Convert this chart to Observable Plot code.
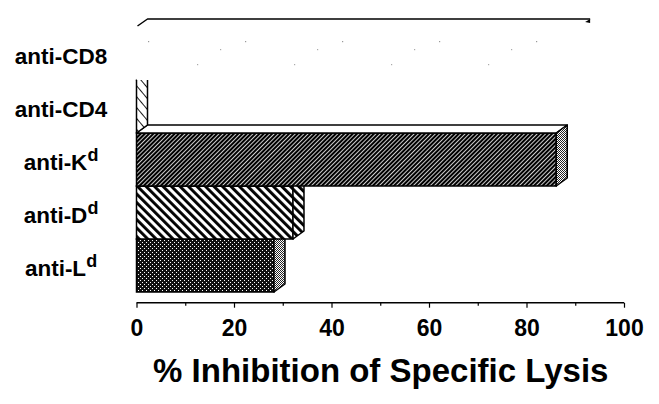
<!DOCTYPE html>
<html><head><meta charset="utf-8">
<script src="https://cdn.jsdelivr.net/npm/d3@7"></script>
<script src="https://cdn.jsdelivr.net/npm/@observablehq/plot@0.6"></script>
<style>html,body{margin:0;padding:0;background:#fff;} svg{display:block}</style>
</head><body><div id="chart"></div>
<script>
// ---- data ----
const categories = ["anti-CD8", "anti-CD4", "anti-K", "anti-D", "anti-L"];
const superscripts = ["", "", "d", "d", "d"];
const inhibition = [90.8, 0, 86.1, 32.1, 28.2];
const majorTicks = [0, 20, 40, 60, 80, 100];
const minorTicks = [10, 30, 50, 70, 90];
const axisTitle = "% Inhibition of Specific Lysis";

const rows = categories.map((c, i) => ({name: c, sup: superscripts[i], value: inhibition[i]}));

// ---- styling ----
const DX = 11, DY = 8; // pseudo-3D depth offset (pixels)
const look = {
  "anti-CD8": {front: "url(#pCD8)", stroke: "none", top: "#fff", side: "#fff", ghost: true},
  "anti-CD4": {front: "#fff", stroke: "#000", top: "#fff", side: "url(#pCD4)"},
  "anti-K":   {front: "url(#pK)", stroke: "#000", top: "#fff", side: "url(#pGray)"},
  "anti-D":   {front: "url(#pD)", stroke: "#000", top: "#fff", side: "url(#pD)"},
  "anti-L":   {front: "url(#pL)", stroke: "#000", top: "#fff", side: "url(#pGray)"}
};

function bandOf(scales) {
  const y = scales.y;
  return typeof y.bandwidth === "function" ? y.bandwidth() : scales.scales.y.bandwidth;
}

function faces(row) {
  const st = look[row.name];
  return (index, scales) => {
    const x = scales.x, y = scales.y, bw = bandOf(scales);
    const x0 = x(0), x1 = x(row.value), yt = y(row.name), yb = yt + bw;
    const g = d3.create("svg:g").attr("stroke-linejoin", "round");
    if (st.ghost) {
      g.append("path")
        .attr("d", `M${x0 + 1},${yt - 1}L${x0 + DX},${yt - DY}L${x1 + DX},${yt - DY}`)
        .attr("fill", "none").attr("stroke", "#000").attr("stroke-width", 1.5);
      g.append("path")
        .attr("d", `M${x1 + DX - 5},${yt - DY + 3}L${x1 + DX},${yt - DY}L${x1 + DX},${yt - DY + 4}Z`)
        .attr("fill", "#000");
    } else {
      g.append("path")
        .attr("d", `M${x0},${yt}L${x1},${yt}L${x1 + DX},${yt - DY}L${x0 + DX},${yt - DY}Z`)
        .attr("fill", st.top).attr("stroke", "#000").attr("stroke-width", 1.5);
      g.append("path")
        .attr("d", `M${x1},${yt}L${x1 + DX},${yt - DY}L${x1 + DX},${yb - DY}L${x1},${yb}Z`)
        .attr("fill", st.side).attr("stroke", "#000").attr("stroke-width", 1.5);
    }
    return g.node();
  };
}

function yLabels(index, scales) {
  const y = scales.y, bw = bandOf(scales);
  const g = d3.create("svg:g")
    .attr("text-anchor", "middle").attr("font-size", 22.5)
    .attr("font-weight", "bold").attr("fill", "#000");
  for (const r of rows) {
    const t = g.append("text").attr("x", 61).attr("y", y(r.name) + bw / 2 + 10);
    t.append("tspan").text(r.name);
    if (r.sup) t.append("tspan").attr("font-size", 18).attr("dy", -9).text(r.sup);
  }
  return g.node();
}

function axisLine(index, scales, values, dims) {
  const yy = dims.height - dims.marginBottom;
  return d3.create("svg:line")
    .attr("x1", scales.x(majorTicks[0])).attr("x2", scales.x(majorTicks[majorTicks.length - 1]))
    .attr("y1", yy).attr("y2", yy)
    .attr("stroke", "#000").attr("stroke-width", 1.5).node();
}

const barMarks = [];
for (const name of ["anti-L", "anti-D", "anti-K", "anti-CD4", "anti-CD8"]) {
  const row = rows.find(r => r.name === name);
  const st = look[name];
  barMarks.push(Plot.barX([row], {x: "value", y: "name", fill: st.front, stroke: st.stroke, strokeWidth: 1.5}));
  barMarks.push(faces(row));
}

const plot = Plot.plot({
  width: 659, height: 404,
  marginLeft: 136.5, marginRight: 35, marginTop: 17, marginBottom: 101.3,
  style: "font-family: 'Liberation Sans', Arial, Helvetica, sans-serif; font-weight: bold; background: #fff; color: #000;",
  x: {domain: [0, 100], axis: null},
  y: {domain: categories, type: "band", range: [27, 292], padding: 0, axis: null},
  marks: [
    ...barMarks,
    axisLine,
    Plot.axisX({ticks: minorTicks, tickSize: 3, tickFormat: () => "", label: null, strokeWidth: 1.2}),
    Plot.axisX({ticks: majorTicks, tickSize: 5, tickPadding: 11, fontSize: 23, fontWeight: "bold", label: null, strokeWidth: 1.2}),
    yLabels,
    Plot.text([axisTitle], {text: d => d, frameAnchor: "bottom", dy: 79, fontSize: 33, fontWeight: "bold", fill: "#000"})
  ]
});

d3.select(plot).insert("defs", ":first-child").html(`
  <pattern id="pL" width="4" height="4" patternUnits="userSpaceOnUse">
    <rect width="4" height="4" fill="#111"/>
    <rect x="0" y="0" width="1" height="1" fill="#fff"/>
    <rect x="2" y="2" width="1" height="1" fill="#fff"/>
  </pattern>
  <pattern id="pGray" width="2" height="2" patternUnits="userSpaceOnUse">
    <rect width="2" height="2" fill="#fff"/>
    <rect x="0" y="0" width="1" height="1" fill="#222"/>
    <rect x="1" y="1" width="1" height="1" fill="#222"/>
  </pattern>
  <pattern id="pD" width="6" height="6" patternUnits="userSpaceOnUse" patternTransform="rotate(-45)">
    <rect width="6" height="6" fill="#fff"/>
    <rect width="2.9" height="6" fill="#000"/>
  </pattern>
  <pattern id="pK" width="3" height="3" patternUnits="userSpaceOnUse" patternTransform="rotate(45)">
    <rect width="3" height="3" fill="#000"/>
    <rect width="0.8" height="3" fill="#fff"/>
  </pattern>
  <pattern id="pCD4" width="7" height="7" patternUnits="userSpaceOnUse" patternTransform="rotate(-40)">
    <rect width="7" height="7" fill="#fff"/>
    <rect width="0.9" height="7" fill="#000"/>
  </pattern>
  <pattern id="pCD8" width="97" height="53" patternUnits="userSpaceOnUse" x="136" y="27">
    <rect width="97" height="53" fill="#fff"/>
    <rect x="12" y="14" width="1.2" height="1.2" fill="#999"/>
    <rect x="61" y="37" width="1.2" height="1.2" fill="#aaa"/>
    <rect x="84" y="22" width="1.2" height="1.2" fill="#aaa"/>
  </pattern>
`);

document.getElementById("chart").appendChild(plot);
</script>
</body></html>
